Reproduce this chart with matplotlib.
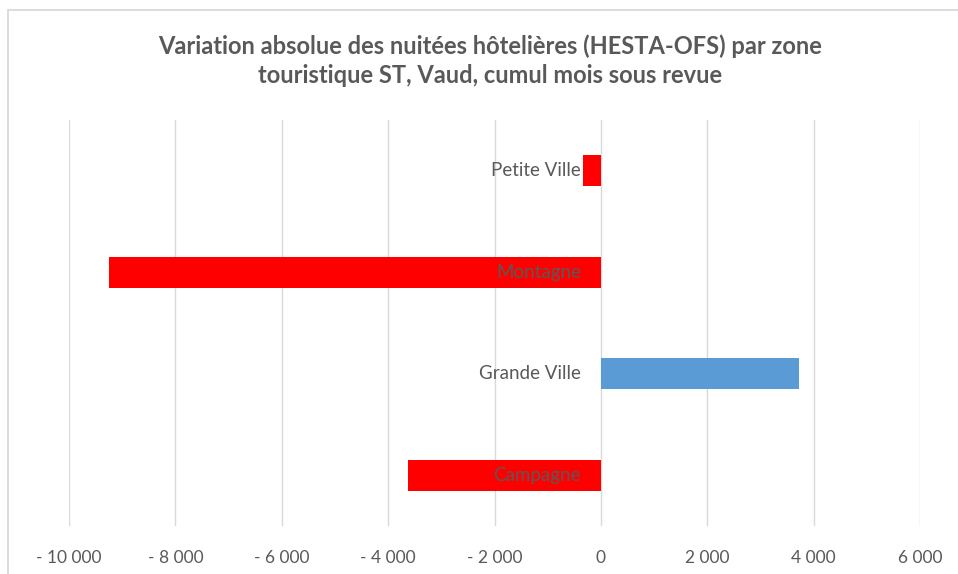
import matplotlib
matplotlib.use("Agg")
import matplotlib.pyplot as plt
from matplotlib.ticker import FuncFormatter, MultipleLocator
from matplotlib.patches import Rectangle

categories = ["Petite Ville", "Montagne", "Grande Ville", "Campagne"]
values = [-340, -9250, 3720, -3620]
title = "Variation absolue des nuitées hôtelières (HESTA-OFS) par zone\ntouristique ST, Vaud, cumul mois sous revue"

RED = "#FF0000"
BLUE = "#5B9BD5"
TXT = "#595959"
GRID = "#D9D9D9"

plt.rcParams['font.family'] = ['Lato', 'DejaVu Sans']

fig = plt.figure(figsize=(9.58, 5.74), dpi=100)
fig.patch.set_facecolor("white")
# chart border (top & left visible)
fig.add_artist(Rectangle((7.5/958, -0.05), 1.2, (574-9.5)/574 + 0.05, transform=fig.transFigure,
                         fill=False, edgecolor=GRID, linewidth=1.3))

ax = fig.add_axes([69/958, 1-526/574, (920-69)/958, (526-120)/574])
ypos = list(range(len(categories)))
colors = [BLUE if v >= 0 else RED for v in values]
ax.barh(ypos, values, height=0.31, color=colors, zorder=3)
ax.set_ylim(len(categories)-0.5, -0.5)
ax.set_xlim(-10000, 6000)
ax.xaxis.set_major_locator(MultipleLocator(2000))

def fmt(v, pos):
    s = f"{abs(int(round(v))):,}".replace(",", " ")
    return f"- {s}" if v < 0 else s
ax.xaxis.set_major_formatter(FuncFormatter(fmt))
ax.grid(axis='x', color=GRID, linewidth=1.0, zorder=0)
for s in ax.spines.values():
    s.set_visible(False)
ax.tick_params(axis='x', length=0, pad=17, labelsize=12.5, labelcolor=TXT)
ax.set_yticks([])

for i, c in enumerate(categories):
    ax.annotate(c, xy=(0, i), xytext=(-20, 0), textcoords='offset pixels',
                ha='right', va='center', fontsize=13.5, color=TXT, zorder=4)

fig.text(490/958, 1-61/574, title, ha='center', va='center', fontsize=17,
         fontweight='bold', color=TXT, linespacing=1.3)

fig.savefig("out.png", dpi=100)
